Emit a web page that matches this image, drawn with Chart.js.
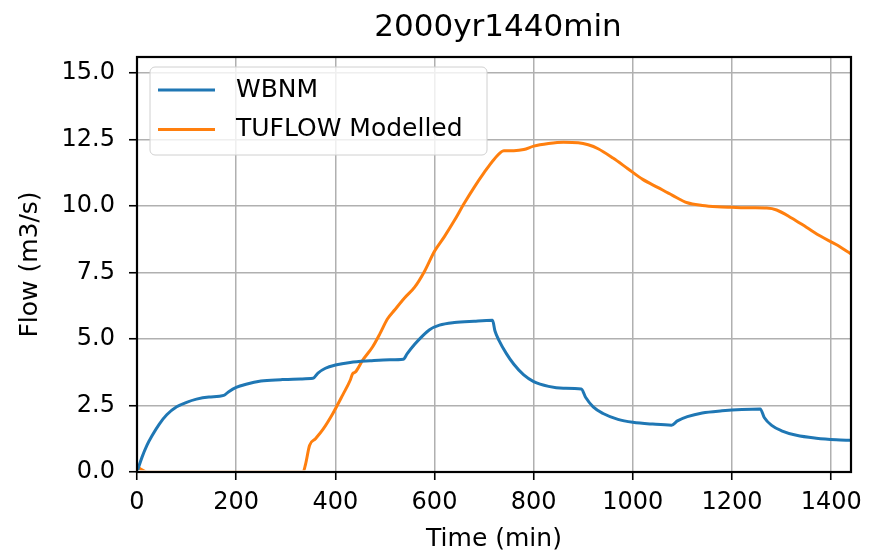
<!DOCTYPE html>
<html>
<head>
<meta charset="utf-8">
<script src="https://cdn.jsdelivr.net/npm/chart.js@4/dist/chart.umd.min.js"></script>
<style>
  html, body { margin: 0; padding: 0; background: #fff; }
  #chart { display: block; }
</style>
</head>
<body>
<canvas id="chart" width="871" height="556"></canvas>
<script>
// 2000yr1440min - WBNM vs TUFLOW flow hydrographs

const chartTitle = '2000yr1440min';
const xLabel = 'Time (min)';
const yLabel = 'Flow (m3/s)';

const xTicks = [0, 200, 400, 600, 800, 1000, 1200, 1400];
const yTicks = [0, 2.5, 5, 7.5, 10, 12.5, 15];

const wbnmTime = [0, 10, 20, 30, 45, 60, 80, 100, 120, 145, 175, 185, 200, 220, 250, 290, 330, 355,
  365, 380, 400, 430, 470, 510, 537, 545, 560, 575, 590, 610, 640, 680, 717, 722, 730, 745, 760,
  780, 800, 830, 860, 896, 905, 920, 940, 970, 1000, 1040, 1078, 1090, 1110, 1140, 1180, 1220,
  1257, 1265, 1280, 1300, 1330, 1370, 1410, 1440];
const wbnmFlow = [0, 0.55, 1.0, 1.35, 1.8, 2.15, 2.45, 2.62, 2.74, 2.82, 2.88, 3.02, 3.18, 3.3, 3.42,
  3.47, 3.5, 3.52, 3.72, 3.9, 4.02, 4.12, 4.18, 4.22, 4.24, 4.45, 4.8, 5.1, 5.35, 5.52, 5.62, 5.67,
  5.7, 5.3, 4.95, 4.45, 4.05, 3.65, 3.4, 3.22, 3.15, 3.12, 2.8, 2.45, 2.2, 1.98, 1.87, 1.8, 1.76,
  1.92, 2.08, 2.22, 2.3, 2.35, 2.37, 2.05, 1.75, 1.55, 1.38, 1.27, 1.21, 1.19];

const tuflowTime = [0, 8, 20, 335, 340, 348, 360, 375, 395, 415, 430, 435, 440, 455, 475, 490, 505,
  520, 540, 560, 580, 600, 620, 640, 660, 680, 700, 720, 740, 760, 780, 800, 830, 860, 890, 910,
  930, 960, 990, 1020, 1050, 1080, 1110, 1140, 1170, 1200, 1240, 1270, 1290, 1320, 1350, 1380,
  1410, 1440];
const tuflowFlow = [0.2, 0.1, 0, 0, 0.3, 1.0, 1.25, 1.6, 2.2, 2.9, 3.45, 3.7, 3.75, 4.2, 4.7, 5.2,
  5.75, 6.1, 6.55, 6.95, 7.55, 8.3, 8.85, 9.45, 10.1, 10.7, 11.25, 11.75, 12.08, 12.08, 12.12,
  12.25, 12.35, 12.4, 12.38, 12.3, 12.15, 11.8, 11.4, 11.0, 10.7, 10.4, 10.12, 10.02, 9.97, 9.95,
  9.93, 9.92, 9.85, 9.55, 9.2, 8.85, 8.55, 8.2];

const seriesNames = ['WBNM', 'TUFLOW Modelled'];
const seriesColors = ['#1f77b4', '#ff7f0e'];

const FONT = "'DejaVu Sans', sans-serif";

function toPoints(xs, ys) {
  return xs.map((x, i) => ({ x: x, y: ys[i] }));
}

// frame, titles and in-plot legend (matplotlib look)
const decorPlugin = {
  id: 'decor',
  afterDatasetsDraw(chart) {
    const { ctx, chartArea: a } = chart;
    ctx.save();
    ctx.strokeStyle = '#000';
    ctx.lineWidth = 2.2;
    ctx.strokeRect(a.left, a.top, a.right - a.left, a.bottom - a.top);

    // legend box
    const lx = 150, ly = 67, lw = 337, lh = 88;
    ctx.beginPath();
    ctx.roundRect(lx, ly, lw, lh, 5);
    ctx.fillStyle = 'rgba(255,255,255,0.8)';
    ctx.fill();
    ctx.strokeStyle = '#d0d0d0';
    ctx.lineWidth = 1;
    ctx.stroke();
    ctx.font = '25px ' + FONT;
    ctx.textBaseline = 'middle';
    ctx.textAlign = 'left';
    seriesNames.forEach((name, i) => {
      const y = 90 + i * 39.5;
      ctx.strokeStyle = seriesColors[i];
      ctx.lineWidth = 3;
      ctx.beginPath();
      ctx.moveTo(158, y);
      ctx.lineTo(215, y);
      ctx.stroke();
      ctx.fillStyle = '#000';
      ctx.fillText(name, 236, y);
    });
    ctx.restore();
  },
  afterDraw(chart) {
    const { ctx, chartArea: a } = chart;
    const cx = (a.left + a.right) / 2;
    ctx.save();
    ctx.fillStyle = '#000';
    ctx.textAlign = 'center';
    ctx.textBaseline = 'middle';
    ctx.font = '31px ' + FONT;
    ctx.fillText(chartTitle, cx + 4, 28);
    ctx.font = '25px ' + FONT;
    ctx.fillText(xLabel, cx, 539);
    ctx.translate(30, (a.top + a.bottom) / 2);
    ctx.rotate(-Math.PI / 2);
    ctx.fillText(yLabel, 0, 0);
    ctx.restore();
  }
};

// lines sitting on 0 stay hidden under the bottom spine
const lineClip = { left: 0, top: 0, right: 0, bottom: -1.8 };

new Chart(document.getElementById('chart'), {
  type: 'line',
  data: {
    datasets: [
      {
        label: seriesNames[0],
        data: toPoints(wbnmTime, wbnmFlow),
        borderColor: seriesColors[0],
        borderWidth: 3,
        pointRadius: 0,
        cubicInterpolationMode: 'monotone',
        clip: lineClip
      },
      {
        label: seriesNames[1],
        data: toPoints(tuflowTime, tuflowFlow),
        borderColor: seriesColors[1],
        borderWidth: 3,
        pointRadius: 0,
        cubicInterpolationMode: 'monotone',
        clip: lineClip
      }
    ]
  },
  options: {
    responsive: false,
    animation: false,
    layout: { padding: { top: 57, right: 20, bottom: 0, left: 0 } },
    plugins: {
      legend: { display: false },
      title: { display: false },
      tooltip: { enabled: false }
    },
    scales: {
      x: {
        type: 'linear',
        min: 0,
        max: 1440,
        afterFit(scale) { scale.height = 84; },
        afterBuildTicks(scale) { scale.ticks = xTicks.map(v => ({ value: v })); },
        ticks: {
          autoSkip: false,
          maxRotation: 0,
          padding: 8,
          color: '#000',
          font: { family: FONT, size: 24 },
          callback: v => String(v)
        },
        grid: { color: '#b0b0b0', lineWidth: 1.5, tickColor: '#000', tickLength: 8, tickWidth: 1.6 },
        border: { display: false }
      },
      y: {
        type: 'linear',
        min: 0,
        max: 15.6,
        afterFit(scale) { scale.width = 137; },
        afterBuildTicks(scale) { scale.ticks = yTicks.map(v => ({ value: v })); },
        ticks: {
          autoSkip: false,
          padding: 14,
          color: '#000',
          font: { family: FONT, size: 24 },
          callback: v => Number(v).toFixed(1)
        },
        grid: { color: '#b0b0b0', lineWidth: 1.5, tickColor: '#000', tickLength: 8, tickWidth: 1.6 },
        border: { display: false }
      }
    }
  },
  plugins: [decorPlugin]
});
</script>
</body>
</html>
